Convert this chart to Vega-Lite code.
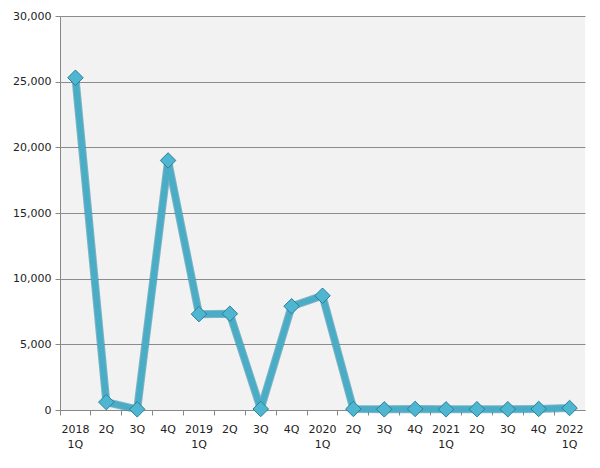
{
  "$schema": "https://vega.github.io/schema/vega-lite/v6.json",
  "autosize": "none",
  "width": 525,
  "height": 394,
  "padding": {"left": 60, "top": 16, "right": 15, "bottom": 58},
  "background": "white",
  "config": {
    "view": {"fill": "#f2f2f2", "stroke": null},
    "font": "DejaVu Sans",
    "axis": {"labelFont": "DejaVu Sans", "labelFontSize": 11, "labelColor": "#222222", "domainColor": "#888888", "tickColor": "#888888"}
  },
  "data": {
    "values": [
      {"q": "2018 1Q", "v": 25300},
      {"q": "2Q ", "v": 600},
      {"q": "3Q ", "v": 50},
      {"q": "4Q ", "v": 19000},
      {"q": "2019 1Q", "v": 7300},
      {"q": "2Q  ", "v": 7330},
      {"q": "3Q  ", "v": 80},
      {"q": "4Q  ", "v": 7900},
      {"q": "2020 1Q", "v": 8700},
      {"q": "2Q   ", "v": 80},
      {"q": "3Q   ", "v": 50},
      {"q": "4Q   ", "v": 80},
      {"q": "2021 1Q", "v": 50},
      {"q": "2Q    ", "v": 60},
      {"q": "3Q    ", "v": 60},
      {"q": "4Q    ", "v": 80},
      {"q": "2022 1Q", "v": 150}
    ]
  },
  "encoding": {
    "x": {
      "field": "q", "type": "ordinal", "sort": null,
      "scale": {"type": "band", "paddingInner": 0, "paddingOuter": 0},
      "axis": {
        "title": null, "labelAngle": 0, "bandPosition": 0, "tickSize": 5,
        "labelPadding": 8, "labelLineHeight": 15,
        "labelExpr": "split(trim(datum.label), ' ')", "grid": false
      }
    },
    "y": {
      "field": "v", "type": "quantitative",
      "scale": {"domain": [0, 30000], "nice": false},
      "axis": {"title": null, "format": ",.0f", "values": [0, 5000, 10000, 15000, 20000, 25000, 30000], "gridColor": "#8c8c8c", "gridWidth": 1, "tickSize": 5, "labelPadding": 4, "domain": true}
    }
  },
  "layer": [
    {"mark": {"type": "line", "stroke": "#2e8ca6", "strokeWidth": 8, "strokeJoin": "round", "opacity": 0.6}},
    {"mark": {"type": "line", "stroke": "#4bacc6", "strokeWidth": 6, "strokeJoin": "round"}},
    {"mark": {"type": "point", "shape": "diamond", "size": 240, "filled": true, "fill": "#4fb6d2", "stroke": "#2a7f98", "strokeWidth": 1, "opacity": 1}}
  ]
}
